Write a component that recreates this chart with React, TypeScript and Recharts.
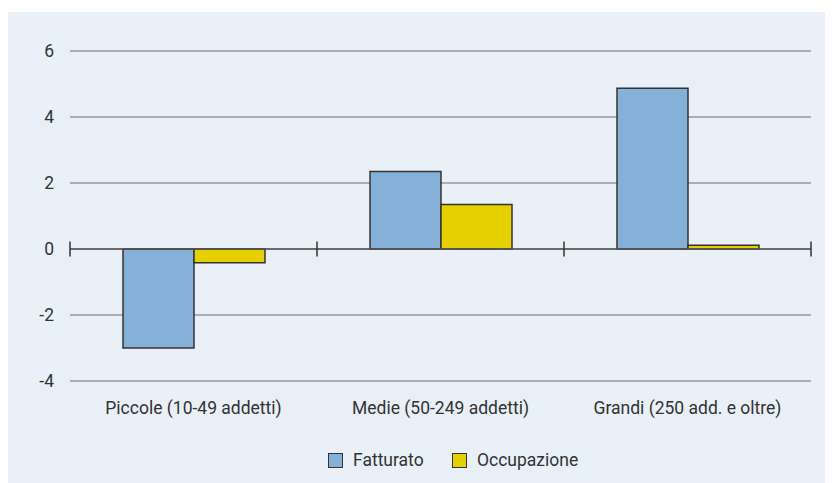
import { BarChart, Bar, XAxis, YAxis, CartesianGrid, ReferenceLine, Legend } from "recharts"

const categories = ["Piccole (10-49 addetti)", "Medie (50-249 addetti)", "Grandi (250 add. e oltre)"]
const fatturato = [-3.0, 2.35, 4.87]
const occupazione = [-0.42, 1.35, 0.11]
const yTicks = [-4, -2, 0, 2, 4, 6]

const series = [
  { key: "fatturato", name: "Fatturato", color: "#85b0d8" },
  { key: "occupazione", name: "Occupazione", color: "#e6d000" },
]

const data = categories.map((c, i) => ({
  name: c,
  fatturato: fatturato[i],
  occupazione: occupazione[i],
}))

// tick marks on the zero line sit at the category borders
const borders = [
  ...categories.map((c) => ({ cat: c, pos: "start" as const })),
  { cat: categories[categories.length - 1], pos: "end" as const },
]

const FONT = "Roboto, 'Liberation Sans', sans-serif"
// legend item x positions inside the panel
const legendX = [320, 444]

function LegendBox() {
  return (
    <div style={{ position: "relative", width: 825, height: 30, fontFamily: FONT, fontSize: 17.5, color: "#333" }}>
      {series.map((s, i) => (
        <div key={s.key} style={{ position: "absolute", left: legendX[i], top: 0, height: 30, display: "flex", alignItems: "center", gap: 10 }}>
          <span style={{ width: 15, height: 15, background: s.color, border: "1.5px solid #333", boxSizing: "border-box" }} />
          <span>{s.name}</span>
        </div>
      ))}
    </div>
  )
}

export default function App() {
  return (
    <div style={{ marginTop: 4, width: 825, height: 471, background: "#e9f0f8" }}>
      <style>{"body{overflow:hidden}"}</style>
      <BarChart
        width={825}
        height={471}
        data={data}
        margin={{ top: 39, right: 22, left: 0, bottom: 8 }}
        barCategoryGap={53}
        barGap={0}
      >
        <CartesianGrid vertical={false} stroke="#999" strokeWidth={1.5} />
        <XAxis
          dataKey="name"
          axisLine={false}
          tickLine={false}
          tickSize={0}
          tickMargin={21}
          height={64}
          tick={{ fill: "#333", fontSize: 17.5, fontFamily: FONT }}
        />
        <YAxis
          domain={[-4, 6]}
          ticks={yTicks}
          width={62}
          axisLine={false}
          tickLine={false}
          tickSize={0}
          tickMargin={16}
          tick={{ fill: "#333", fontSize: 17.5, fontFamily: FONT }}
        />
        <ReferenceLine y={0} stroke="#555" strokeWidth={1.5} />
        {borders.map((b, i) => (
          <ReferenceLine
            key={i}
            segment={[{ x: b.cat, y: -0.23 }, { x: b.cat, y: 0.23 }]}
            position={b.pos}
            stroke="#333"
            strokeWidth={1.5}
            ifOverflow="visible"
          />
        ))}
        {series.map((s) => (
          <Bar
            key={s.key}
            dataKey={s.key}
            name={s.name}
            fill={s.color}
            stroke="#333"
            strokeWidth={1.5}
            isAnimationActive={false}
          />
        ))}
        <Legend verticalAlign="bottom" height={30} wrapperStyle={{ left: 0, width: 825 }} content={() => <LegendBox />} />
      </BarChart>
    </div>
  )
}
